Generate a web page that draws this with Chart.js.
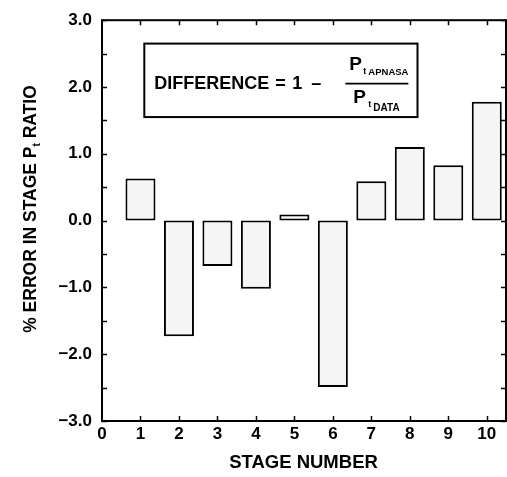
<!DOCTYPE html>
<html><head><meta charset="utf-8">
<script src="https://cdn.jsdelivr.net/npm/chart.js@4/dist/chart.umd.min.js"></script>
<style>html,body{margin:0;padding:0;background:#fff}#wrap{width:507px;height:477px;position:relative}</style>
</head><body><div id="wrap"><canvas id="c" width="507" height="477"></canvas></div>
<script>
// ---- data ----
const stages = [1, 2, 3, 4, 5, 6, 7, 8, 9, 10];
const errors = [0.63, -1.73, -0.68, -1.02, 0.09, -2.49, 0.59, 1.10, 0.83, 1.78];
const xTickValues = [0, 1, 2, 3, 4, 5, 6, 7, 8, 9, 10];
const yTickValues = [-3, -2, -1, 0, 1, 2, 3];
const yMinorValues = [-2.5, -1.5, -0.5, 0.5, 1.5, 2.5];
const xTitle = 'STAGE NUMBER';
const yTitleParts = ['% ERROR IN STAGE P', 't', ' RATIO'];
const formulaParts = ['DIFFERENCE', '=', '1', '\u2013'];
const numerSub = 'APNASA';
const denomSub = 'DATA';

const FONT = '"Liberation Sans", Arial, Helvetica, sans-serif';

const decor = {
  id: 'decor',
  afterDraw(chart) {
    const ctx = chart.ctx;
    const a = chart.chartArea;
    const xs = chart.scales.x, ys = chart.scales.y;
    ctx.save();
    ctx.strokeStyle = '#000';
    ctx.fillStyle = '#000';
    // frame
    ctx.lineWidth = 2;
    ctx.strokeRect(a.left, a.top, a.right - a.left, a.bottom - a.top);
    // ticks
    ctx.lineWidth = 1.5;
    const tl = 5;
    ctx.beginPath();
    xTickValues.forEach(v => {
      if (v === 0) return;
      const px = Math.round(xs.getPixelForValue(v)) + 0.5;
      ctx.moveTo(px, a.bottom); ctx.lineTo(px, a.bottom - tl);
      ctx.moveTo(px, a.top); ctx.lineTo(px, a.top + tl);
    });
    yTickValues.concat(yMinorValues).forEach(v => {
      const py = Math.round(ys.getPixelForValue(v)) + 0.5;
      ctx.moveTo(a.left, py); ctx.lineTo(a.left + tl, py);
      ctx.moveTo(a.right, py); ctx.lineTo(a.right - tl, py);
    });
    ctx.stroke();

    // formula box
    const bx0 = xs.getPixelForValue(1.1), bx1 = xs.getPixelForValue(8.2);
    const by0 = ys.getPixelForValue(2.65), by1 = ys.getPixelForValue(1.55);
    ctx.lineWidth = 2;
    ctx.fillStyle = '#fff';
    ctx.fillRect(bx0, by0, bx1 - bx0, by1 - by0);
    ctx.strokeRect(bx0, by0, bx1 - bx0, by1 - by0);
    ctx.fillStyle = '#000';
    ctx.textBaseline = 'alphabetic';
    ctx.textAlign = 'left';
    ctx.font = 'bold 18px ' + FONT;
    const base = by0 + 45;
    ctx.fillText(formulaParts[0], bx0 + 10, base);
    ctx.fillText(formulaParts[1], bx0 + 131, base);
    ctx.fillText(formulaParts[2], bx0 + 148, base);
    ctx.fillText(formulaParts[3], bx0 + 167, base);
    // fraction
    ctx.lineWidth = 1.6;
    ctx.beginPath();
    ctx.moveTo(bx0 + 201, by0 + 40); ctx.lineTo(bx0 + 264, by0 + 40);
    ctx.stroke();
    ctx.font = 'bold 19px ' + FONT;
    ctx.fillText('P', bx0 + 205, by0 + 26);
    ctx.fillText('P', bx0 + 209, by0 + 59);
    ctx.font = 'bold 9px ' + FONT;
    ctx.fillText('t', bx0 + 219, by0 + 30);
    ctx.fillText('t', bx0 + 224, by0 + 63);
    ctx.font = 'bold 9.5px ' + FONT;
    ctx.fillText(numerSub, bx0 + 224, by0 + 31);
    ctx.font = 'bold 10px ' + FONT;
    ctx.fillText(denomSub, bx0 + 229, by0 + 67);

    // x title
    ctx.font = 'bold 18.5px ' + FONT;
    ctx.textAlign = 'center';
    ctx.fillText(xTitle, 303.5, 468);

    // y title (rotated) with subscript t
    ctx.translate(36, 209);
    ctx.rotate(-Math.PI / 2);
    const fMain = 'bold 17.5px ' + FONT, fSub = 'bold 10px ' + FONT;
    ctx.font = fMain; const w0 = ctx.measureText(yTitleParts[0]).width;
    const w2 = ctx.measureText(yTitleParts[2]).width;
    ctx.font = fSub; const w1 = ctx.measureText(yTitleParts[1]).width;
    const total = w0 + w1 + w2;
    let x = -total / 2;
    ctx.textAlign = 'left';
    ctx.font = fMain; ctx.fillText(yTitleParts[0], x, 0); x += w0;
    ctx.font = fSub; ctx.fillText(yTitleParts[1], x, 4); x += w1;
    ctx.font = fMain; ctx.fillText(yTitleParts[2], x, 0);
    ctx.restore();
  }
};

new Chart(document.getElementById('c'), {
  type: 'bar',
  data: {
    datasets: [{
      data: stages.map((s, i) => ({ x: s, y: errors[i] })),
      backgroundColor: '#f5f5f5',
      borderColor: '#000',
      borderWidth: 2,
      borderSkipped: false,
      barPercentage: 0.78,
      categoryPercentage: 1.0
    }]
  },
  options: {
    responsive: false,
    devicePixelRatio: 1,
    animation: false,
    layout: { padding: { top: 14, right: 1, left: 0, bottom: 0 } },
    plugins: { legend: { display: false }, tooltip: { enabled: false } },
    scales: {
      x: {
        type: 'linear', min: 0, max: 10.5, offset: false,
        afterBuildTicks: s => { s.ticks = xTickValues.map(v => ({ value: v })); },
        afterFit: s => { s.height = 56; },
        grid: { display: false, drawTicks: false, offset: false },
        border: { display: false },
        ticks: { color: '#000', font: { family: FONT, size: 17, weight: 'bold' }, padding: 3, maxRotation: 0, autoSkip: false,
          callback: v => String(v) }
      },
      y: {
        min: -3, max: 3,
        afterBuildTicks: s => { s.ticks = yTickValues.map(v => ({ value: v })); },
        afterFit: s => { s.width = 102; },
        grid: { display: false, drawTicks: false },
        border: { display: false },
        ticks: { color: '#000', font: { family: FONT, size: 17, weight: 'bold' }, padding: 10,
          callback: v => (v < 0 ? '\u2212' : '') + Math.abs(v).toFixed(1) }
      }
    }
  },
  plugins: [decor]
});
</script>
</body></html>
